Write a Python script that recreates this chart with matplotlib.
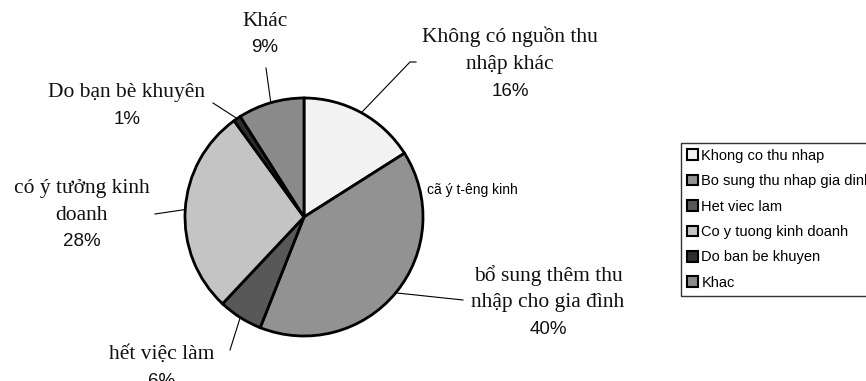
import matplotlib
matplotlib.use("Agg")
import matplotlib.pyplot as plt
import numpy as np

# data
labels = ["Không có nguồn thu\nnhập khác", "bổ sung thêm thu\nnhập cho gia đình", "hết việc làm",
          "có ý tưởng kinh\ndoanh", "Do bạn bè khuyên", "Khác"]
legend_names = ["Khong co thu nhap", "Bo sung thu nhap gia dinh", "Het viec lam",
                "Co y tuong kinh doanh", "Do ban be khuyen", "Khac"]
shares = [16, 40, 6, 28, 1, 9]

colors = ["#f2f2f2", "#929292", "#585858", "#c4c4c4", "#2e2e2e", "#8a8a8a"]

W, H = 866, 381
fig = plt.figure(figsize=(W / 100, H / 100), dpi=100)
ax = fig.add_axes([0, 0, 1, 1])

# pie in pixel units, y measured upward
cx, cy, r = 304, H - 217, 119
wedges, _ = ax.pie(shares, startangle=90, counterclock=False, colors=colors,
                   center=(cx, cy), radius=r,
                   wedgeprops=dict(edgecolor="black", linewidth=2))

ax.set_xlim(0, W)
ax.set_ylim(0, H)
ax.set_aspect("auto")
ax.axis("off")

# label blocks: x, y of first line (from top), leader points from label toward pie
label_pos = [
    (510, 37, [(416, 62), (410, 62)]),
    (548, 276, [(463, 300)]),
    (162, 354, [(230, 350)]),
    (82, 188, [(155, 214)]),
    (127, 92, [(213, 103)]),
    (265, 21, [(266, 68)]),
]
serif = ["Liberation Serif", "DejaVu Serif"]
step = 27
for w, name, pct, (lx, ly, pts) in zip(wedges, labels, shares, label_pos):
    lines = name.split("\n")
    for k, t in enumerate(lines):
        ax.text(lx, H - (ly + k * step), t, family=serif, fontsize=15.5,
                ha="center", va="center", color="#111111")
    ax.text(lx, H - (ly + len(lines) * step), f"{pct}%", family="Liberation Sans",
            fontsize=13.5, ha="center", va="center", color="#111111")
    mid = np.deg2rad((w.theta1 + w.theta2) / 2)
    xs = [cx + r * np.cos(mid)] + [p[0] for p in pts[::-1]]
    ys = [cy + r * np.sin(mid)] + [H - p[1] for p in pts[::-1]]
    ax.plot(xs, ys, color="black", lw=0.8)

ax.text(427, H - 190, "cã ý t-êng kinh", family="Liberation Sans", fontsize=10,
        ha="left", va="center")

leg = fig.legend(wedges, legend_names, loc="upper left",
                 bbox_to_anchor=(681 / W, 1 - 143 / H), prop={"family": "Liberation Sans", "size": 10.5},
                 frameon=True, fancybox=False, handlelength=0.75, handleheight=0.75,
                 handletextpad=0.25, labelspacing=0.78, borderpad=0.4, borderaxespad=0)
leg.get_frame().set_edgecolor("black")
leg.get_frame().set_linewidth(1.0)
for p in leg.get_patches():
    p.set_linewidth(1.5)

fig.savefig("out.png", dpi=100)
